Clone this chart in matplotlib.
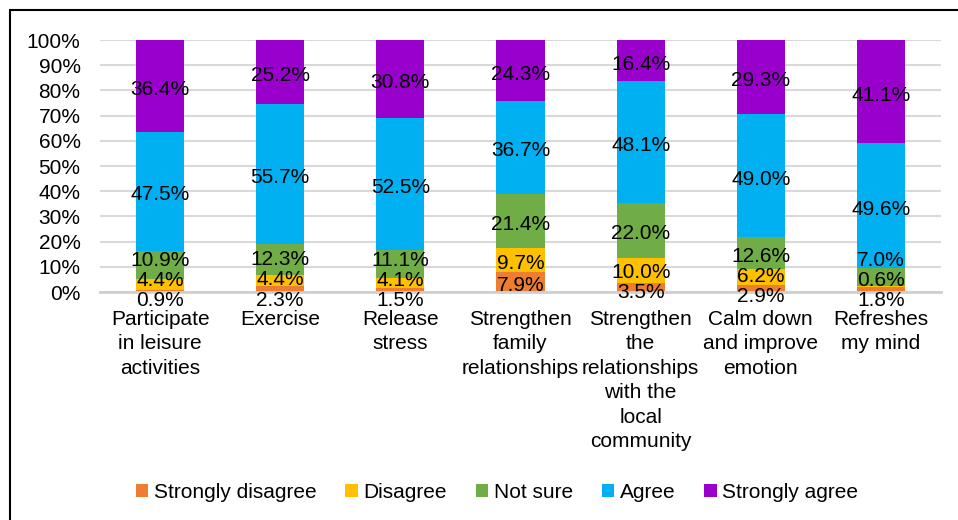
import matplotlib
matplotlib.use("Agg")
import matplotlib.pyplot as plt
import numpy as np
from matplotlib.patches import Rectangle

plt.rcParams['font.family'] = ['Liberation Sans', 'DejaVu Sans']

categories = [
    "Participate\nin leisure\nactivities",
    "Exercise",
    "Release\nstress",
    "Strengthen\nfamily\nrelationships",
    "Strengthen\nthe\nrelationships\nwith the\nlocal\ncommunity",
    "Calm down\nand improve\nemotion",
    "Refreshes\nmy mind",
]
series_names = ["Strongly disagree", "Disagree", "Not sure", "Agree", "Strongly agree"]
strongly_disagree = [0.9, 2.3, 1.5, 7.9, 3.5, 2.9, 1.8]
disagree = [4.4, 4.4, 4.1, 9.7, 10.0, 6.2, 0.6]
not_sure = [10.9, 12.3, 11.1, 21.4, 22.0, 12.6, 7.0]
agree = [47.5, 55.7, 52.5, 36.7, 48.1, 49.0, 49.6]
strongly_agree = [36.4, 25.2, 30.8, 24.3, 16.4, 29.3, 41.1]
yticks = [0, 10, 20, 30, 40, 50, 60, 70, 80, 90, 100]

colors = ["#ED7D31", "#FFC000", "#70AD47", "#00B0F0", "#9900CC"]
series = [strongly_disagree, disagree, not_sure, agree, strongly_agree]

fig = plt.figure(figsize=(9.58, 5.2), dpi=100)
W, H = 958, 520
ax = fig.add_axes([100 / W, 1 - 292 / H, 841 / W, 252 / H])

data = np.array(series, dtype=float)
totals = data.sum(axis=0)
heights = data / totals * 100
x = np.arange(len(categories))
FS = 15

bottoms = np.vstack([np.zeros(len(categories)), np.cumsum(heights, axis=0)[:-1]])
for i, (name, col) in enumerate(zip(series_names, colors)):
    ax.bar(x, heights[i], bottom=bottoms[i], width=0.4, color=col,
           label=name, zorder=3)

# label placement: centered in segment, nudged apart when crowded (like Excel)
gap = 8.0      # minimal distance between label centres, in % units
floor = -2.0   # lowest allowed label centre
for j in range(len(categories)):
    ys = list(bottoms[:, j] + heights[:, j] / 2)
    for _ in range(200):
        ys[0] = max(ys[0], floor)
        for k in range(len(ys) - 1):
            d = ys[k + 1] - ys[k]
            if d < gap:
                shift = (gap - d) / 2
                ys[k] -= shift
                ys[k + 1] += shift
        if ys[0] < floor:
            delta = floor - ys[0]
            ys[0] = floor
        # push up from the floor if needed
        for k in range(len(ys) - 1):
            if ys[k + 1] - ys[k] < gap - 1e-6 and ys[k] <= floor + 1e-6:
                ys[k + 1] = ys[k] + gap
    ys[0] = max(ys[0], floor)
    for k in range(1, len(ys)):
        if ys[k] - ys[k - 1] < gap and ys[k - 1] <= floor + 1e-6:
            ys[k] = ys[k - 1] + gap
    for k, yv in enumerate(ys):
        ax.annotate(f"{data[k, j]:.1f}%", (x[j], yv), xytext=(0, -2.5),
                    textcoords="offset points", ha="center", va="center",
                    fontsize=FS, color="black", zorder=5, annotation_clip=False)

ax.set_xlim(-0.5, len(categories) - 0.5)
ax.set_ylim(0, 100)
ax.set_yticks(yticks)
ax.set_yticklabels([f"{t}%" for t in yticks], fontsize=FS)
ax.set_xticks(x)
ax.set_xticklabels(categories, fontsize=FS, linespacing=1.36)
ax.tick_params(axis="y", length=0, pad=14)
ax.tick_params(axis="x", length=0, pad=13)
for s in ax.spines.values():
    s.set_visible(False)
ax.spines["bottom"].set_visible(True)
ax.spines["bottom"].set_color("#D0D0D0")
ax.spines["bottom"].set_linewidth(2)
ax.spines["bottom"].set_zorder(4)
ax.yaxis.grid(True, color="#D9D9D9", linewidth=1.5, zorder=0)
ax.set_axisbelow(True)

leg = fig.legend(loc="center", bbox_to_anchor=(497 / W, 1 - 492 / H), ncol=5,
                 frameon=False, fontsize=FS, handlelength=0.6, handleheight=0.6,
                 handletextpad=0.25, columnspacing=1.4, borderaxespad=0)

fig.patches.append(Rectangle((10 / W, -0.1), 1.2, 1 - 10 / H + 0.1,
                             transform=fig.transFigure, fill=False,
                             edgecolor="black", linewidth=1.5, zorder=10))

fig.savefig("out.png", dpi=100)
